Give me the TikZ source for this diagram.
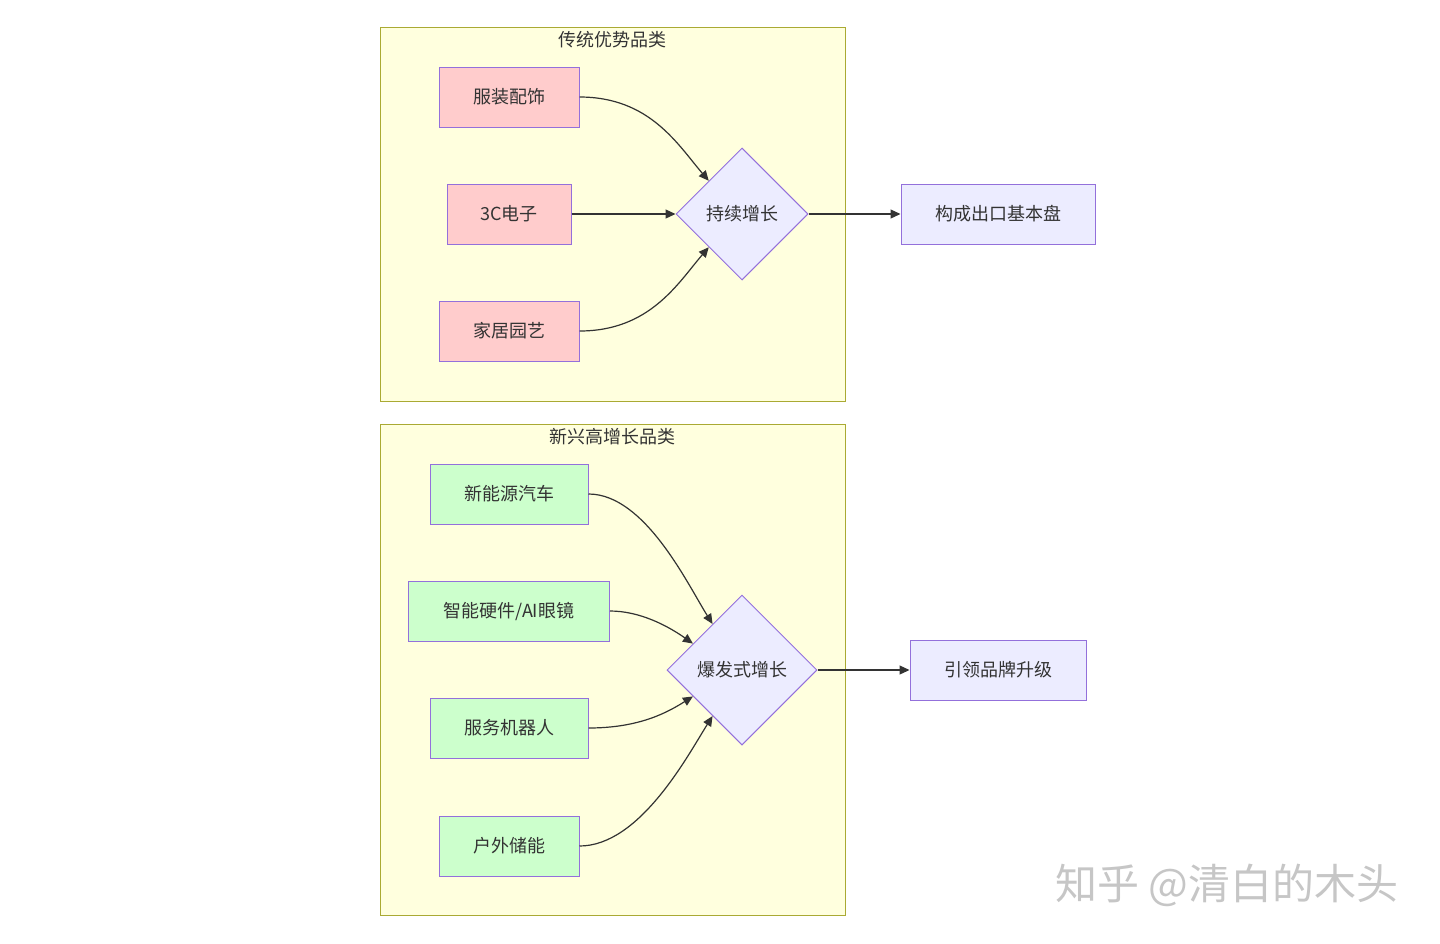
\documentclass[tikz,border=0pt]{standalone}
\usepackage{fontspec}
\setmainfont{Noto Sans CJK SC}
\usetikzlibrary{
  arrows.meta,
  shapes.geometric,
  calc
}

\definecolor{clusterfill}{HTML}{FFFFDE}
\definecolor{clusterline}{HTML}{AAAA33}
\definecolor{oldfill}{HTML}{FFCCCC}
\definecolor{newfill}{HTML}{CCFFCC}
\definecolor{nodefill}{HTML}{ECECFF}
\definecolor{nodeline}{HTML}{9370DB}
\definecolor{edgecol}{HTML}{333333}

\begin{document}
\begin{tikzpicture}[
  x=0.5pt,y=-0.5pt,
  >={Triangle[length=5pt,width=4.5pt]},
  font=\fontsize{9pt}{11pt}\selectfont,
  text=edgecol,
  cluster/.style={draw=clusterline,fill=clusterfill,line width=0.5pt},
  box/.style={draw=nodeline,line width=0.5pt,rectangle,
    minimum height=30pt,inner sep=0pt},
  oldbox/.style={box,fill=oldfill},
  newbox/.style={box,fill=newfill},
  resultbox/.style={box,fill=nodefill},
  judge/.style={draw=nodeline,fill=nodefill,line width=0.5pt,diamond,
    aspect=1,inner sep=0pt},
  edge/.style={->,edgecol,line width=0.6pt}
]
\useasboundingbox (0,0) rectangle (1440,943);

%--------------------
% 传统优势品类
%--------------------
\draw[cluster] (380,27) rectangle (845,401);
\node (oldtitle) at (612.5,40) {传统优势品类};

\node[oldbox,minimum width=70pt] (cloth) at (509,97) {服装配饰};
\node[oldbox,minimum width=62pt] (elec) at (509,214) {3C电子};
\node[oldbox,minimum width=70pt] (home) at (509,331) {家居园艺};

\node[judge,minimum width=66pt,minimum height=66pt] (steady) at (742,214) {持续增长};
\node[resultbox,minimum width=97pt] (base) at (998,214) {构成出口基本盘};

% 菱形边上的落点
\coordinate (s1) at ($(steady.north)!0.5!(steady.west)$);
\coordinate (s3) at ($(steady.west)!0.5!(steady.south)$);

\draw[edge] (cloth.east) .. controls (650,97) and (678,145) .. (s1);
\draw[edge] (elec.east) -- (steady.west);
\draw[edge] (home.east) .. controls (650,331) and (678,283) .. (s3);
\draw[edge] (steady.east) -- (base.west);

%--------------------
% 新兴高增长品类
%--------------------
\draw[cluster] (380,424) rectangle (845,915);
\node (newtitle) at (612.5,437) {新兴高增长品类};

\node[newbox,minimum width=79pt] (car) at (509,494) {新能源汽车};
\node[newbox,minimum width=100.5pt] (smart) at (509,611) {智能硬件/AI眼镜};
\node[newbox,minimum width=79pt] (robot) at (509,728) {服务机器人};
\node[newbox,minimum width=70pt] (power) at (509,846) {户外储能};

\node[judge,minimum width=75pt,minimum height=75pt] (boom) at (742,670) {爆发式增长};
\node[resultbox,minimum width=88pt] (brand) at (998,670) {引领品牌升级};

% 菱形边上的落点
\coordinate (b1) at ($(boom.north)!0.39!(boom.west)$);
\coordinate (b2) at ($(boom.north)!0.65!(boom.west)$);
\coordinate (b3) at ($(boom.west)!0.35!(boom.south)$);
\coordinate (b4) at ($(boom.west)!0.61!(boom.south)$);

\draw[edge] (car.east) .. controls (645,494) and (688,585) .. (b1);
\draw[edge] (smart.east) .. controls (640,611) and (668,626) .. (b2);
\draw[edge] (robot.east) .. controls (640,728) and (668,712) .. (b3);
\draw[edge] (power.east) .. controls (640,846) and (688,755) .. (b4);
\draw[edge] (boom.east) -- (brand.west);

% 水印
\node[text=gray!45,font=\fontsize{21pt}{23pt}\selectfont] (mark) at (1227,885) {知乎 @清白的木头};

\end{tikzpicture}
\end{document}
